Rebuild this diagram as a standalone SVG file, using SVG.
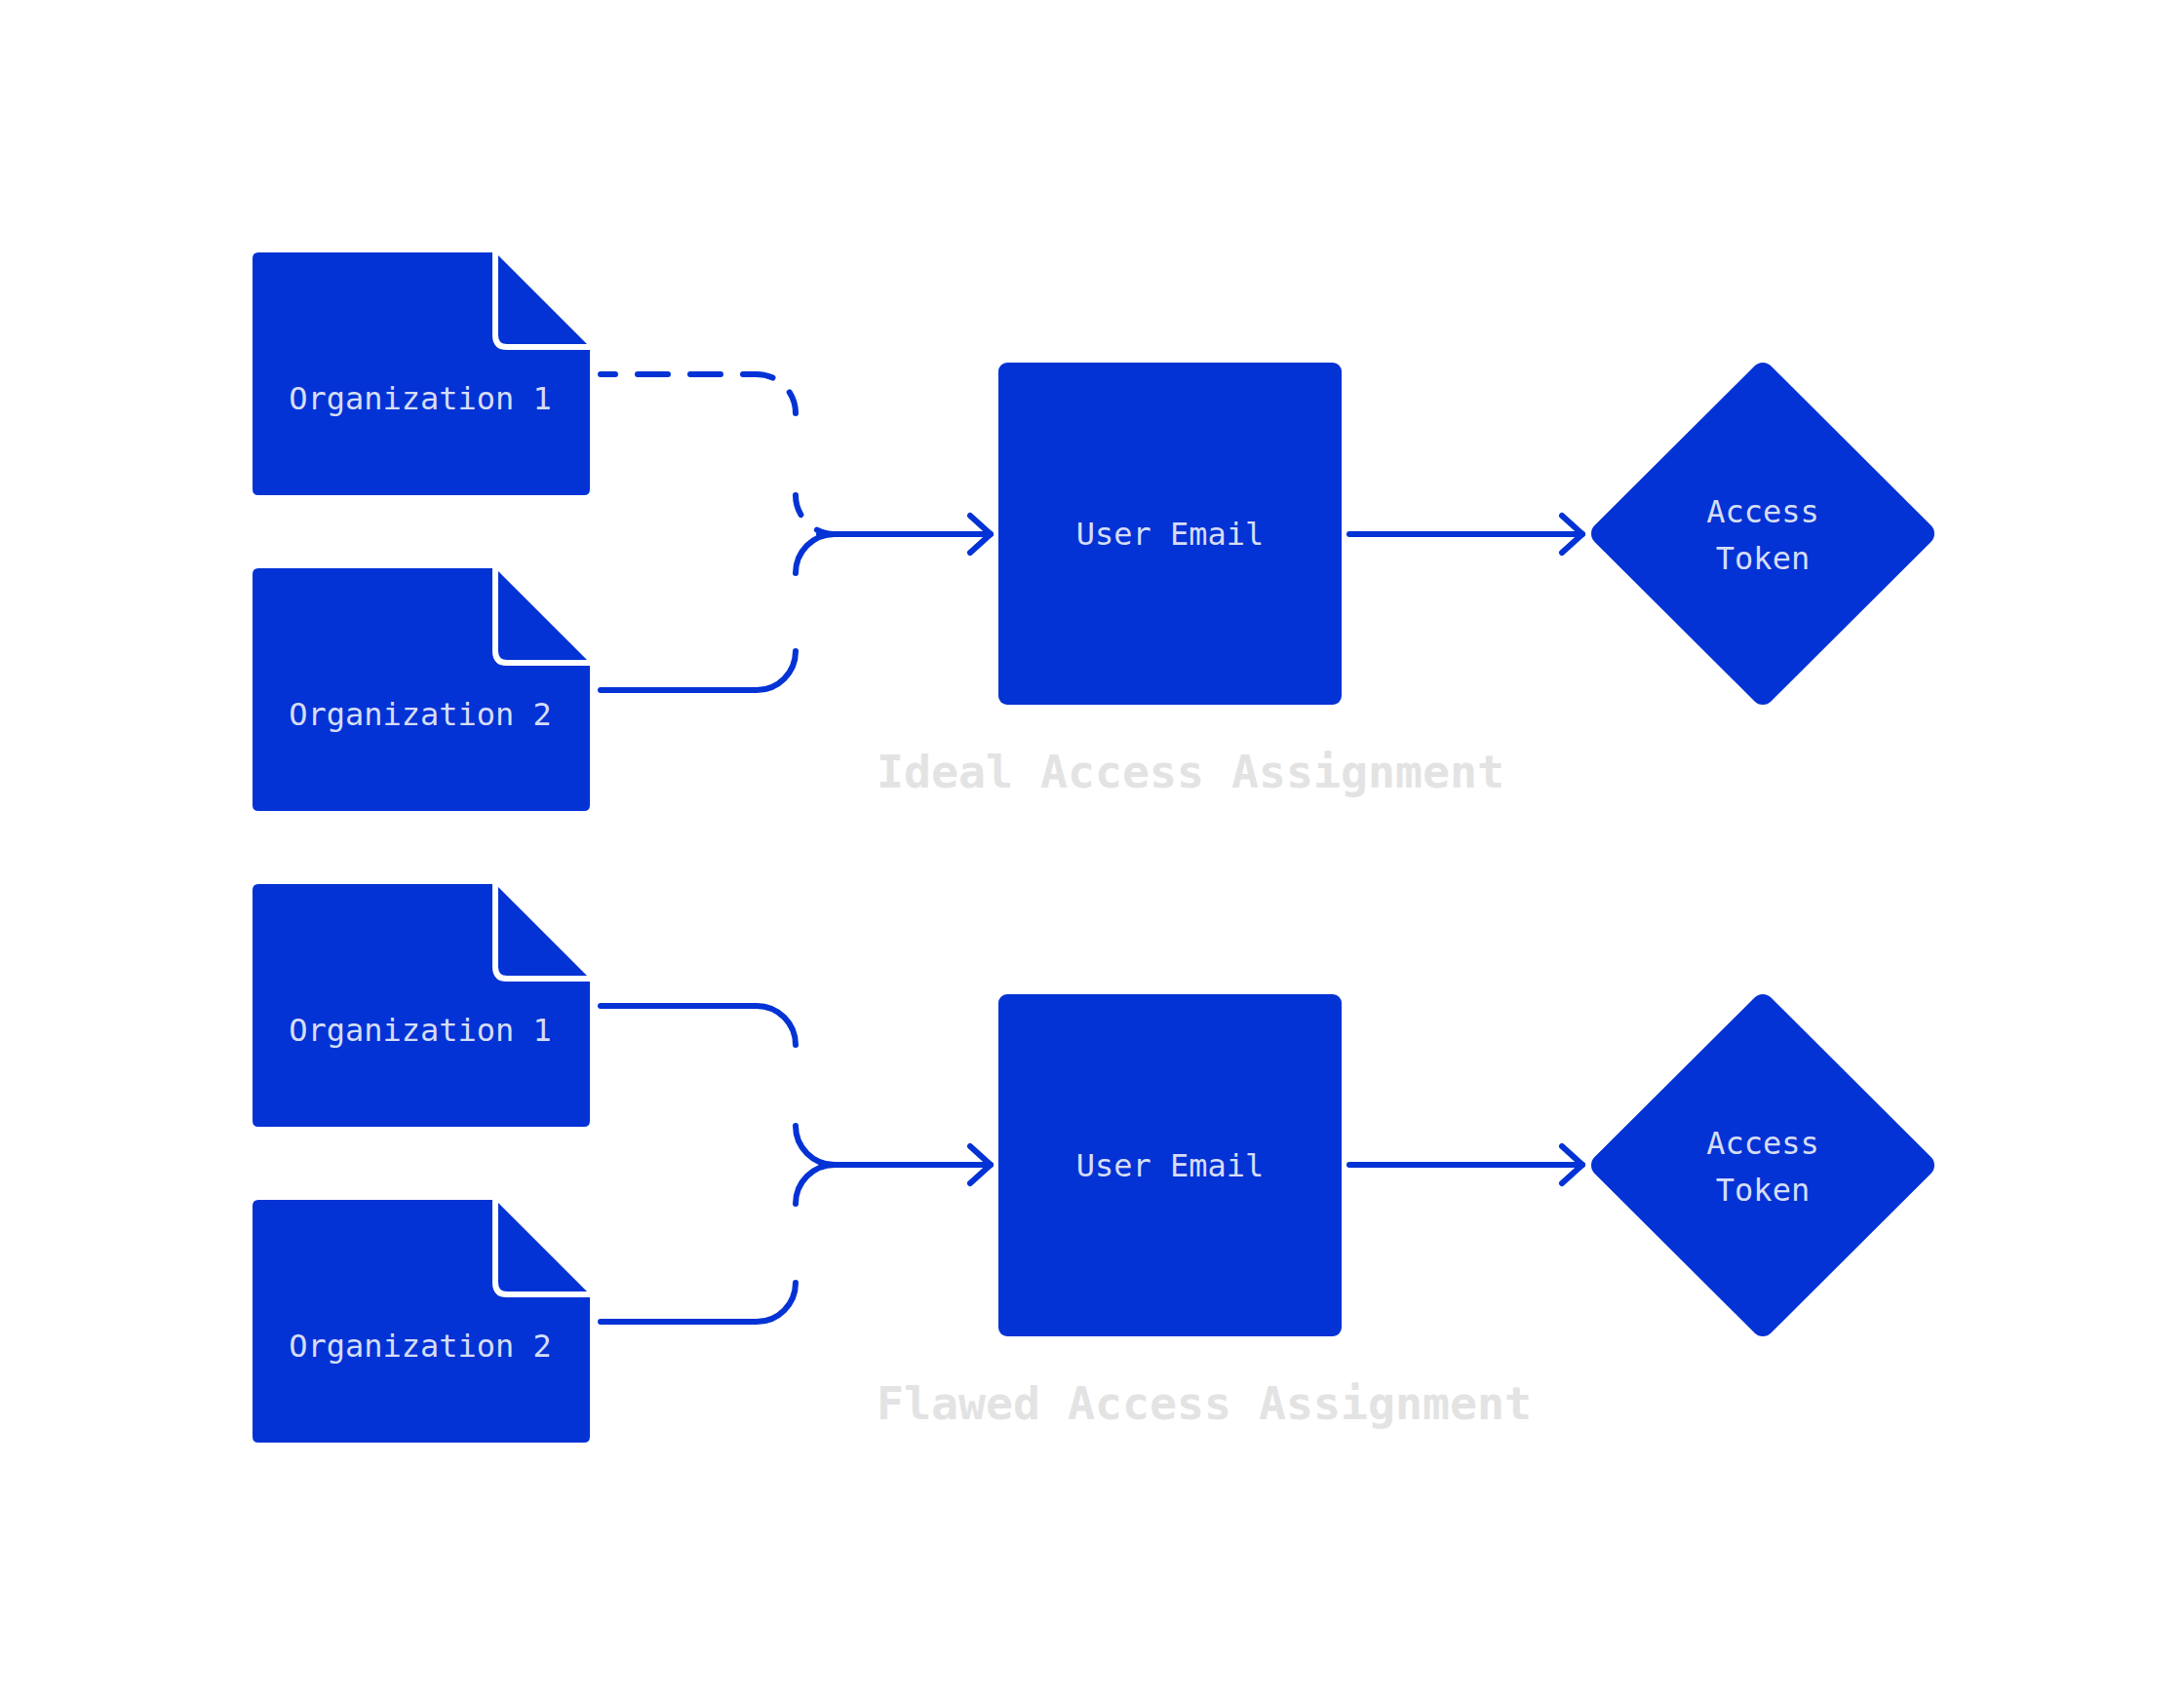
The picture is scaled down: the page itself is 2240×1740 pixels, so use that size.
<svg xmlns="http://www.w3.org/2000/svg" xmlns:xlink="http://www.w3.org/1999/xlink" width="2240" height="1740" viewBox="0 0 2240 1740">
<style>
.blue{fill:#0332d5}
.lbl{font-family:"DejaVu Sans Mono","Liberation Mono",monospace;font-size:32px;fill:#d5ddf7;text-anchor:middle}
.title{font-family:"DejaVu Sans Mono","Liberation Mono",monospace;font-size:46.5px;font-weight:bold;fill:#e3e3e3}
.con{fill:none;stroke:#0332d5;stroke-width:6;stroke-linecap:round;stroke-linejoin:round}
.dash{stroke-dasharray:31 23}
</style>
<defs>
<g id="docShape">
<path class="blue" d="M6,0 H249 L346,97 V243 Q346,249 340,249 H6 Q0,249 0,243 V6 Q0,0 6,0 Z"/>
<path fill="none" stroke="#ffffff" stroke-width="6" d="M249,-4 V85 Q249,97 261,97 H350"/>
</g>
<marker id="arr" markerUnits="userSpaceOnUse" markerWidth="60" markerHeight="60" refX="30" refY="30" orient="auto" viewBox="0 0 60 60">
<path d="M9,11 L30,30 L9,49" fill="none" stroke="#0332d5" stroke-width="6" stroke-linecap="round" stroke-linejoin="round"/>
</marker>
</defs>
<rect width="2240" height="1740" fill="#ffffff"/>

<g id="connectors">
<path class="con dash" stroke-dashoffset="16" d="M616,384 H776 A40,40 0 0 1 816,424"/>
<path class="con dash" stroke-dashoffset="10" d="M816,508 A40,40 0 0 0 856,548"/>
<path class="con" d="M616,708 H776 A40,40 0 0 0 816,668"/>
<path class="con" d="M816,588 A40,40 0 0 1 856,548"/>
<path class="con" d="M840,548 H1016" marker-end="url(#arr)"/>
<path class="con" d="M1384,548 H1623" marker-end="url(#arr)"/>

<path class="con" d="M616,1032 H776 A40,40 0 0 1 816,1072"/>
<path class="con" d="M816,1155 A40,40 0 0 0 856,1195"/>
<path class="con" d="M616,1356 H776 A40,40 0 0 0 816,1316"/>
<path class="con" d="M816,1235 A40,40 0 0 1 856,1195"/>
<path class="con" d="M856,1195 H1016" marker-end="url(#arr)"/>
<path class="con" d="M1384,1195 H1623" marker-end="url(#arr)"/>
</g>

<g id="org1-ideal">
<use xlink:href="#docShape" href="#docShape" x="259" y="259"/>
<text class="lbl" x="431" y="420">Organization 1</text>
</g>
<g id="org2-ideal">
<use xlink:href="#docShape" href="#docShape" x="259" y="583"/>
<text class="lbl" x="431" y="744">Organization 2</text>
</g>
<g id="email-ideal">
<rect class="blue" x="1024" y="372" width="352" height="351" rx="9"/>
<text class="lbl" x="1200" y="559">User Email</text>
</g>
<g id="token-ideal">
<polygon class="blue" stroke="#0332d5" stroke-width="24" stroke-linejoin="round" points="1808,384 1972,547.5 1808,711 1644,547.5"/>
<text class="lbl" x="1808" y="536">Access</text>
<text class="lbl" x="1808" y="584">Token</text>
</g>
<text class="title" id="title-ideal" x="899" y="808">Ideal Access Assignment</text>

<g id="org1-flawed">
<use xlink:href="#docShape" href="#docShape" x="259" y="907"/>
<text class="lbl" x="431" y="1068">Organization 1</text>
</g>
<g id="org2-flawed">
<use xlink:href="#docShape" href="#docShape" x="259" y="1231"/>
<text class="lbl" x="431" y="1392">Organization 2</text>
</g>
<g id="email-flawed">
<rect class="blue" x="1024" y="1020" width="352" height="351" rx="9"/>
<text class="lbl" x="1200" y="1207">User Email</text>
</g>
<g id="token-flawed">
<polygon class="blue" stroke="#0332d5" stroke-width="24" stroke-linejoin="round" points="1808,1032 1972,1195.5 1808,1359 1644,1195.5"/>
<text class="lbl" x="1808" y="1184">Access</text>
<text class="lbl" x="1808" y="1232">Token</text>
</g>
<text class="title" id="title-flawed" x="899" y="1456">Flawed Access Assignment</text>
</svg>
